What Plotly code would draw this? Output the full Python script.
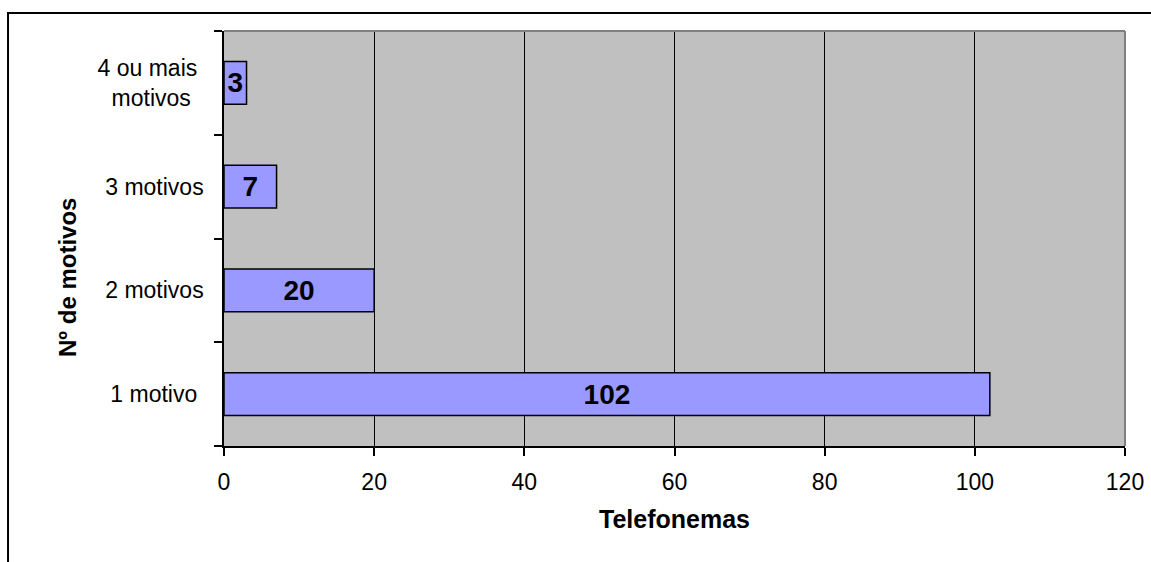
import plotly.graph_objects as go

# Number of reasons per phone call
categorias = ["1 motivo\u00a0", "2 motivos", "3 motivos", "4 ou mais\u00a0<br>motivos\u00a0\u00a0"]
telefonemas = [102, 20, 7, 3]
x_ticks = [0, 20, 40, 60, 80, 100, 120]

FONT = "Liberation Sans, Arial, sans-serif"

fig = go.Figure(
    go.Bar(
        y=categorias,
        x=telefonemas,
        orientation="h",
        marker=dict(color="#9999FF", line=dict(color="black", width=1.5)),
        text=[str(v) for v in telefonemas],
        textposition="inside",
        insidetextanchor="middle",
        textangle=0,
        textfont=dict(family=FONT, size=28, color="black", weight="bold"),
        hoverinfo="skip",
    )
)

fig.update_layout(
    width=1151,
    height=562,
    margin=dict(l=224, r=26, t=31, b=116),
    paper_bgcolor="white",
    plot_bgcolor="#C0C0C0",
    bargap=0.59,
    showlegend=False,
    uniformtext=dict(minsize=28, mode="show"),
    font=dict(family=FONT, color="black"),
)

fig.update_xaxes(
    range=[0, 120],
    tickvals=x_ticks,
    ticktext=[str(v) for v in x_ticks],
    automargin=False,
    showgrid=True,
    gridcolor="black",
    gridwidth=1,
    zeroline=False,
    showline=True,
    linecolor="black",
    linewidth=1.5,
    ticks="outside",
    ticklen=8,
    tickwidth=1.5,
    tickcolor="black",
    tickfont=dict(family=FONT, size=23, color="black"),
    ticklabelstandoff=7,
    title=dict(text="Telefonemas", font=dict(family=FONT, size=25, weight="bold"), standoff=16),
    fixedrange=True,
)

fig.update_yaxes(
    type="category",
    categoryorder="array",
    categoryarray=categorias,
    tickson="boundaries",
    automargin=False,
    showgrid=False,
    zeroline=False,
    showline=True,
    linecolor="black",
    linewidth=1.5,
    ticks="outside",
    ticklen=8,
    tickwidth=1.5,
    tickcolor="black",
    tickfont=dict(family=FONT, size=23, color="black"),
    ticklabelstandoff=14,
    fixedrange=True,
)

# Vertical axis title, set slightly below the middle of the axis
fig.add_annotation(
    text="Nº de motivos",
    xref="paper", yref="paper",
    x=-0.1743, y=0.407,
    xanchor="center", yanchor="middle",
    textangle=-90,
    showarrow=False,
    font=dict(family=FONT, size=24, color="black", weight="bold"),
)

# Gray frame on the top and right edges of the plot area
fig.add_shape(type="line", xref="paper", yref="paper", x0=0, x1=1, y0=1, y1=1,
              line=dict(color="#808080", width=2), layer="above")
fig.add_shape(type="line", xref="paper", yref="paper", x0=1, x1=1, y0=0, y1=1,
              line=dict(color="#808080", width=2), layer="above")

# Outer chart border
fig.add_shape(type="rect", xref="paper", yref="paper",
              x0=-0.2397, x1=1.1, y0=-0.35, y1=1.0434,
              line=dict(color="black", width=2), fillcolor="rgba(0,0,0,0)", layer="below")

fig.write_html("out.html", config={"displayModeBar": False})
